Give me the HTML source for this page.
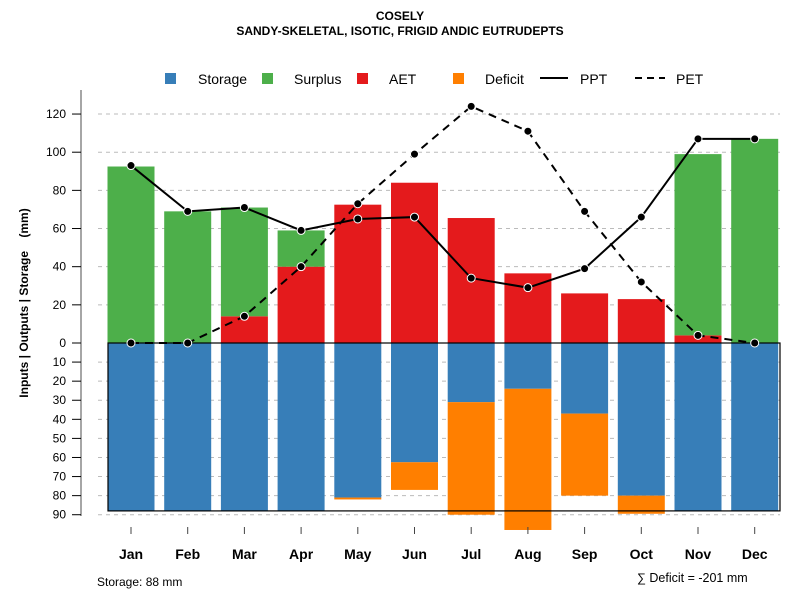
<!DOCTYPE html>
<html><head><meta charset="utf-8"><style>body{margin:0;background:#fff}svg{font-family:"Liberation Sans",sans-serif}</style></head>
<body>
<svg id="c" width="800" height="600" xmlns="http://www.w3.org/2000/svg">
<text x="400" y="20" text-anchor="middle" font-size="12" font-weight="bold">COSELY</text>
<text x="400" y="35" text-anchor="middle" font-size="12" font-weight="bold">SANDY-SKELETAL, ISOTIC, FRIGID ANDIC EUTRUDEPTS</text>
<g font-size="14">
<g><rect x="165" y="73" width="11" height="11" fill="#377EB8"/><text x="198" y="84">Storage</text></g>
<g><rect x="262" y="73" width="11" height="11" fill="#4DAF4A"/><text x="294" y="84">Surplus</text></g>
<g><rect x="357" y="73" width="11" height="11" fill="#E41A1C"/><text x="389" y="84">AET</text></g>
<g><rect x="453" y="73" width="11" height="11" fill="#FF7F00"/><text x="485" y="84">Deficit</text></g>
<g><line x1="540" y1="78" x2="568" y2="78" stroke="#000" stroke-width="2"/><text x="580" y="84">PPT</text></g>
<g><line x1="635" y1="78" x2="665" y2="78" stroke="#000" stroke-width="2" stroke-dasharray="7,5"/><text x="676" y="84">PET</text></g>
</g>
<text transform="translate(28,303) rotate(-90)" text-anchor="middle" font-size="12" font-weight="bold" style="white-space:pre">Inputs | Outputs | Storage    (mm)</text>
<g id="grid"></g><g id="bars"></g><g id="lines"></g><g id="axes"></g>
<text x="97" y="586" font-size="12">Storage: 88 mm</text>
<text x="637" y="582" font-size="12.5">∑ Deficit = -201 mm</text>
</svg>
<script>
const months=["Jan","Feb","Mar","Apr","May","Jun","Jul","Aug","Sep","Oct","Nov","Dec"];
const aet=[0,0,14,40,72.5,84,65.5,36.5,26,23,4,0];
const surplus=[92.5,69,57,19,0,0,0,0,0,0,95,107];
const storage=[88,88,88,88,81,62.5,31,24,37,80,88,88];
const deficit=[0,0,0,0,1,14.5,59,74,43,9.5,0,0];
const ppt=[93,69,71,59,65,66,34,29,39,66,107,107];
const pet=[0,0,14,40,73,99,124,111,69,32,4,0];
const upTicks=[0,20,40,60,80,100,120];
const downTicks=[10,20,30,40,50,60,70,80,90];
const storageMax=88;
const NS="http://www.w3.org/2000/svg";
const y0=343,k=1.908;
const yUp=v=>y0-v*k, yDn=v=>y0+v*k;
const xC=i=>131+i*56.7, bw=47;
function el(t,a,p){const e=document.createElementNS(NS,t);for(const q in a)e.setAttribute(q,a[q]);document.getElementById(p).appendChild(e);return e;}
upTicks.forEach(v=>{if(v===0)return;const g=el('line',{x1:98,x2:780,y1:yUp(v),y2:yUp(v),stroke:'#bbb','stroke-dasharray':'4,4'},'grid');

});
downTicks.forEach(v=>{const g=el('line',{x1:98,x2:780,y1:yDn(v),y2:yDn(v),stroke:'#bbb','stroke-dasharray':'4,4'},'grid');

});
months.forEach((m,i)=>{const x=xC(i)-bw/2;
let r=el('rect',{x:x,y:yUp(aet[i]),width:bw,height:aet[i]*k,fill:'#E41A1C'},'bars');


r=el('rect',{x:x,y:yUp(aet[i]+surplus[i]),width:bw,height:surplus[i]*k,fill:'#4DAF4A'},'bars');


r=el('rect',{x:x,y:y0,width:bw,height:storage[i]*k,fill:'#377EB8'},'bars');


r=el('rect',{x:x,y:yDn(storage[i]),width:bw,height:deficit[i]*k,fill:'#FF7F00'},'bars');

});
const fr=el('rect',{x:108,y:y0,width:672,height:storageMax*k,fill:'none',stroke:'#000','stroke-width':1.2},'bars');


function series(vals,dash,name){const pts=vals.map((v,i)=>xC(i)+','+yUp(v)).join(' ');
const p=el('polyline',{points:pts,fill:'none',stroke:'#000','stroke-width':2,'stroke-dasharray':dash},'lines');


vals.forEach((v,i)=>{const c=el('circle',{cx:xC(i),cy:yUp(v),r:4,fill:'#000',stroke:'#fff','stroke-width':1},'lines');

});}
series(pet,'8,6','pet');series(ppt,'none','ppt');
const ax=el('line',{x1:81,x2:81,y1:90,y2:516,stroke:'#888','stroke-width':1.5},'axes');


upTicks.forEach(v=>{el('line',{x1:72,x2:81,y1:yUp(v),y2:yUp(v),stroke:'#000'},'axes');
const t=el('text',{x:66,y:yUp(v)+4,'text-anchor':'end','font-size':12},'axes');t.textContent=v;

});
downTicks.forEach(v=>{el('line',{x1:72,x2:81,y1:yDn(v),y2:yDn(v),stroke:'#000'},'axes');
const t=el('text',{x:66,y:yDn(v)+4,'text-anchor':'end','font-size':12},'axes');t.textContent=v;

});
months.forEach((m,i)=>{el('line',{x1:xC(i),x2:xC(i),y1:527,y2:534,stroke:'#444'},'axes');
const t=el('text',{x:xC(i),y:559,'text-anchor':'middle','font-size':14,'font-weight':'bold'},'axes');t.textContent=m;

});
</script>
</body></html>
